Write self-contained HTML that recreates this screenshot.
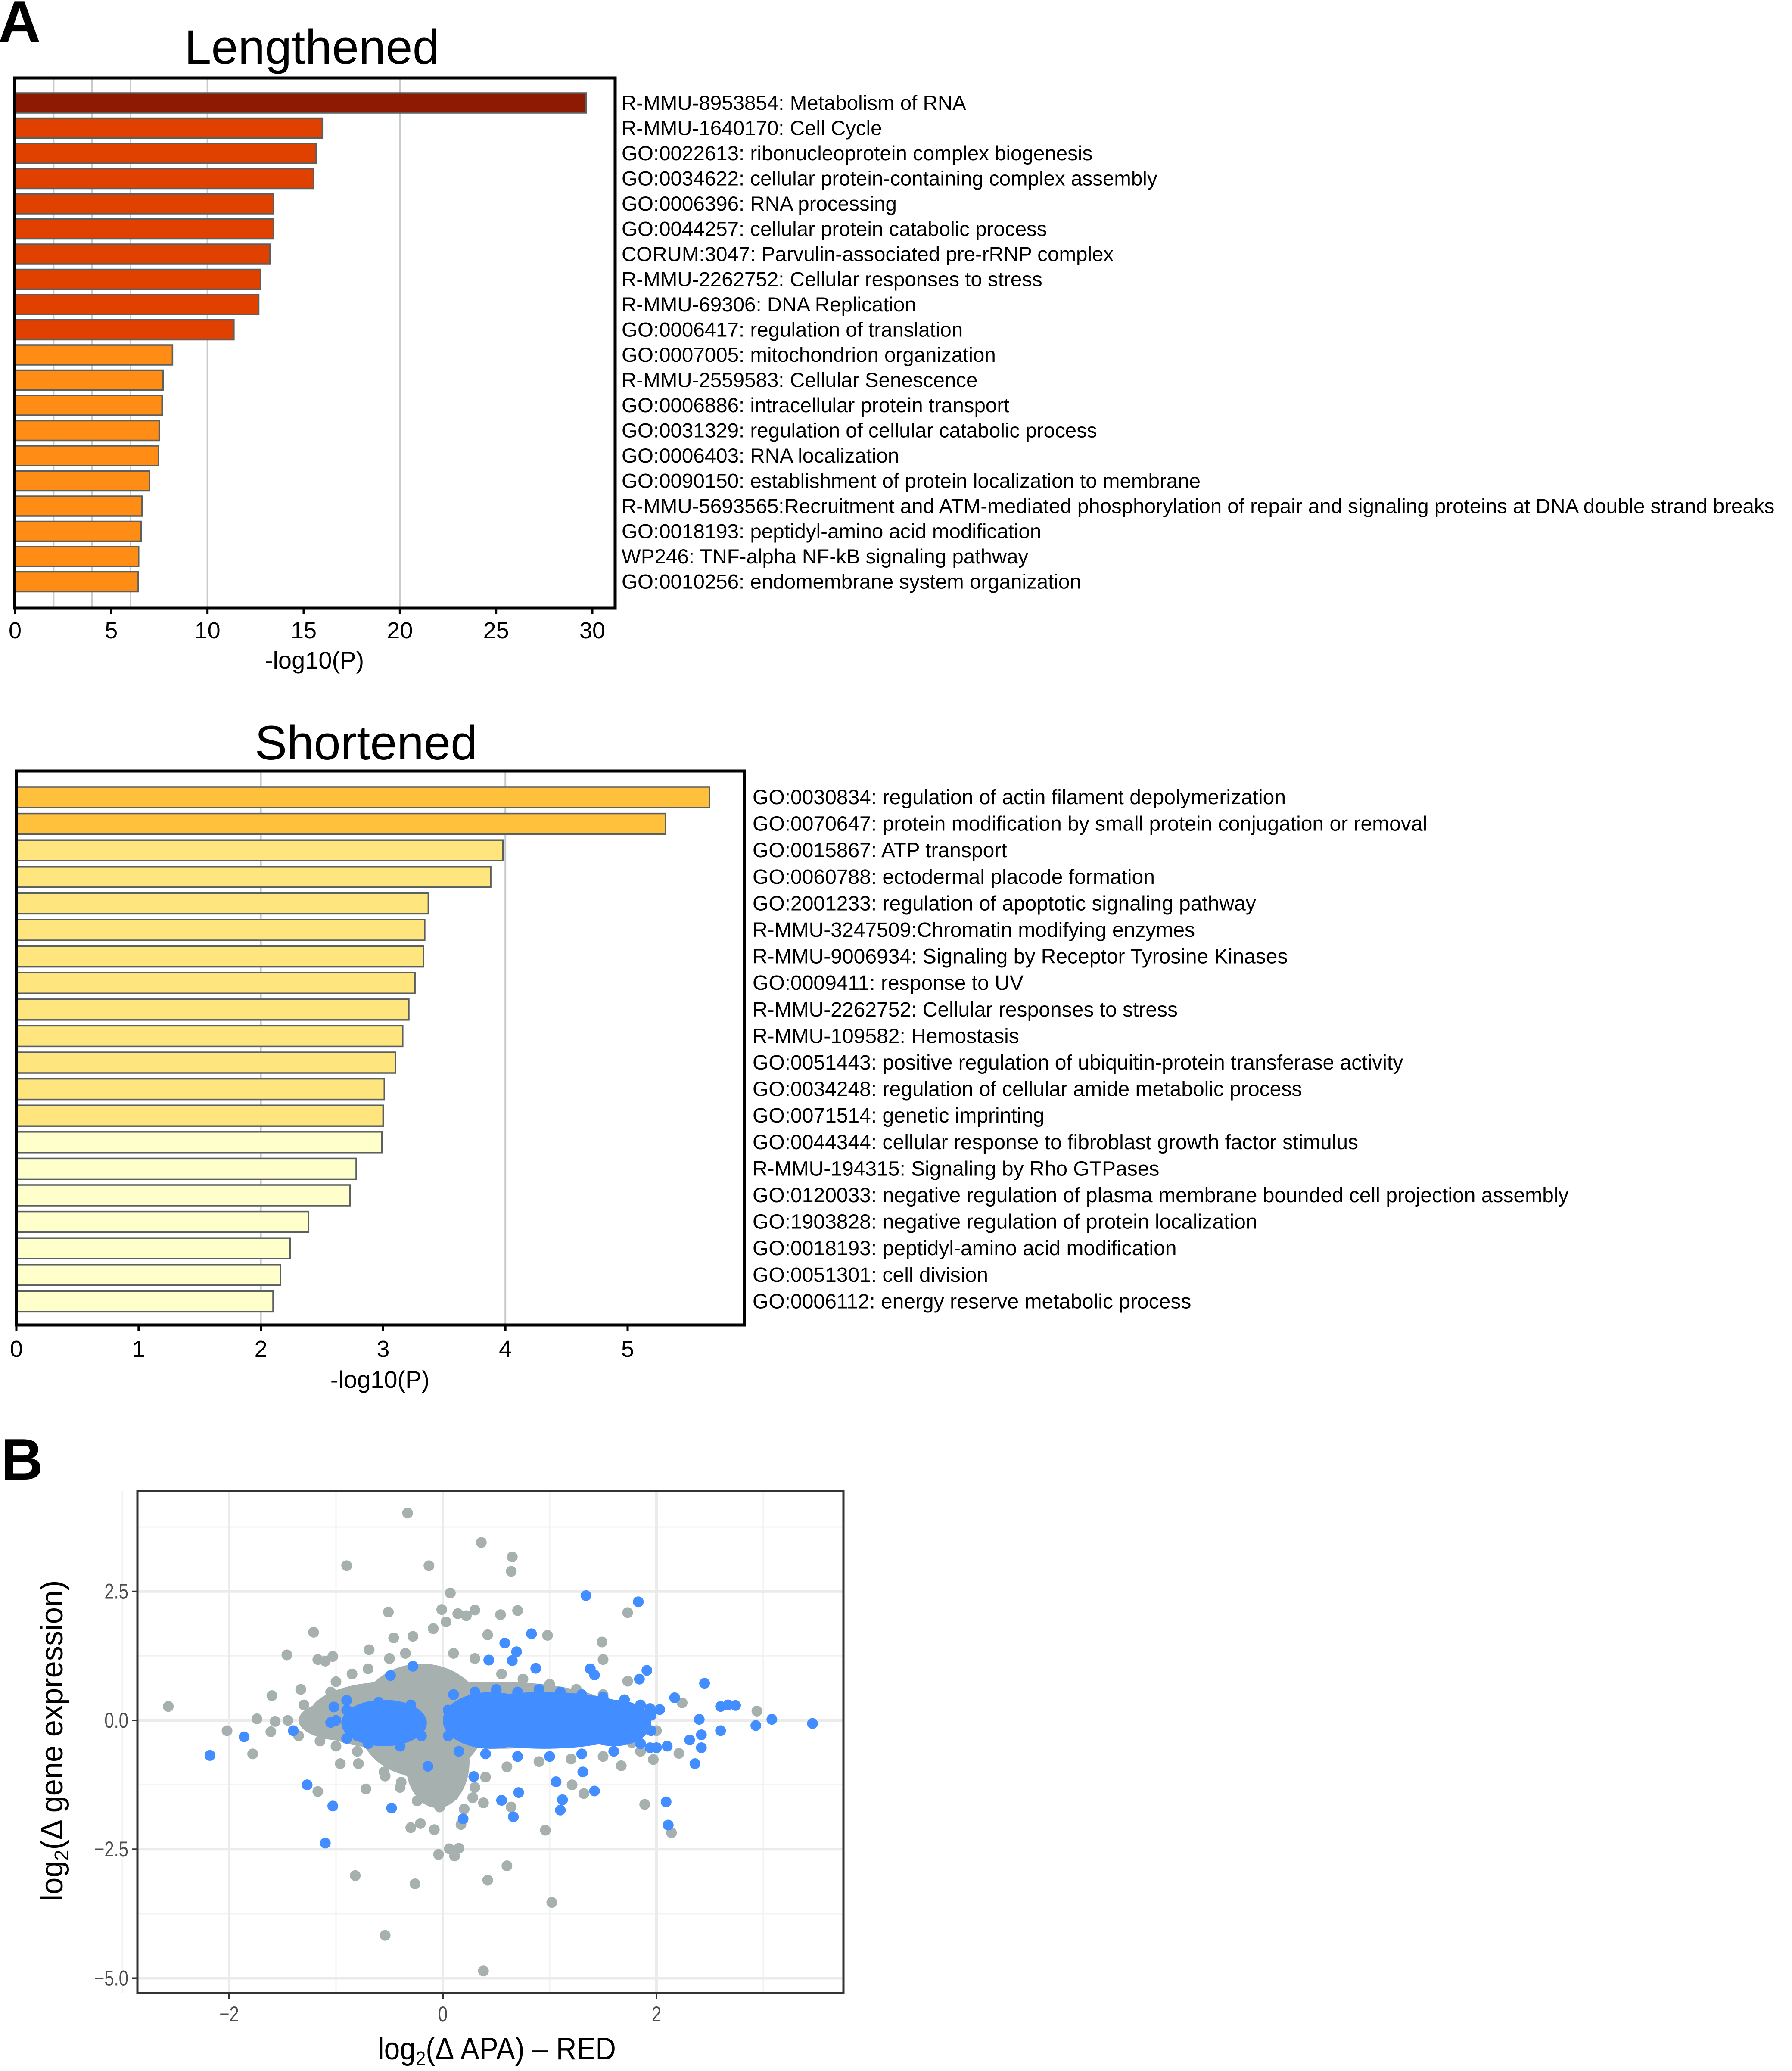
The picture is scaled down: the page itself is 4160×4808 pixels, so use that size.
<!DOCTYPE html>
<html><head><meta charset="utf-8">
<style>
html,body{margin:0;padding:0;background:#fff;}
svg{display:block;font-family:"Liberation Sans",sans-serif;}
</style></head>
<body>
<svg id="fig" width="4160" height="4808" viewBox="0 0 4160 4808" xmlns="http://www.w3.org/2000/svg">
<rect x="0" y="0" width="4160" height="4808" fill="#fff"/>
<text x="-4" y="97" font-size="136" font-weight="bold">A</text>
<text x="2" y="3435" font-size="136" font-weight="bold">B</text>
<g id="lenG"></g>
<g id="shoG"></g>
<g id="scG"></g>
</svg>
<script>
const lenLabels = ["R-MMU-8953854: Metabolism of RNA","R-MMU-1640170: Cell Cycle","GO:0022613: ribonucleoprotein complex biogenesis","GO:0034622: cellular protein-containing complex assembly","GO:0006396: RNA processing","GO:0044257: cellular protein catabolic process","CORUM:3047: Parvulin-associated pre-rRNP complex","R-MMU-2262752: Cellular responses to stress","R-MMU-69306: DNA Replication","GO:0006417: regulation of translation","GO:0007005: mitochondrion organization","R-MMU-2559583: Cellular Senescence","GO:0006886: intracellular protein transport","GO:0031329: regulation of cellular catabolic process","GO:0006403: RNA localization","GO:0090150: establishment of protein localization to membrane","R-MMU-5693565:Recruitment and ATM-mediated phosphorylation of repair and signaling proteins at DNA double strand breaks","GO:0018193: peptidyl-amino acid modification","WP246: TNF-alpha NF-kB signaling pathway","GO:0010256: endomembrane system organization"];
const lenValues = [29.68,15.97,15.65,15.52,13.43,13.43,13.25,12.76,12.66,11.37,8.18,7.69,7.64,7.49,7.45,6.98,6.60,6.55,6.42,6.40];
const lenTicks = [0,5,10,15,20,25,30];
const lenGrid = [2,4,6,10,20];

const shoLabels = ["GO:0030834: regulation of actin filament depolymerization","GO:0070647: protein modification by small protein conjugation or removal","GO:0015867: ATP transport","GO:0060788: ectodermal placode formation","GO:2001233: regulation of apoptotic signaling pathway","R-MMU-3247509:Chromatin modifying enzymes","R-MMU-9006934: Signaling by Receptor Tyrosine Kinases","GO:0009411: response to UV","R-MMU-2262752: Cellular responses to stress","R-MMU-109582: Hemostasis","GO:0051443: positive regulation of ubiquitin-protein transferase activity","GO:0034248: regulation of cellular amide metabolic process","GO:0071514: genetic imprinting","GO:0044344: cellular response to fibroblast growth factor stimulus","R-MMU-194315: Signaling by Rho GTPases","GO:0120033: negative regulation of plasma membrane bounded cell projection assembly","GO:1903828: negative regulation of protein localization","GO:0018193: peptidyl-amino acid modification","GO:0051301: cell division","GO:0006112: energy reserve metabolic process"];
const shoValues = [5.67,5.31,3.98,3.88,3.37,3.34,3.33,3.26,3.21,3.16,3.10,3.01,3.00,2.99,2.78,2.73,2.39,2.24,2.16,2.10];
const shoTicks = [0,1,2,3,4,5];
const shoGrid = [2,4];

const greyX = [-0.33,0.36,0.65,0.64,-0.90,-0.13,0.07,-0.51,-0.01,0.14,0.22,0.30,0.54,0.70,1.73,-1.21,0.03,-0.09,-0.46,-0.28,0.42,0.98,1.49,-1.46,-1.17,-1.10,-1.03,-0.69,1.50,-1.60,-2.57,-1.74,-1.57,-2.02,-1.61,-1.78,-1.33,2.24,2.94,1.73,-1.17,-0.72,-0.96,-0.79,-0.30,-0.21,-0.08,0.17,-0.04,0.06,0.15,0.11,0.60,-0.82,-0.26,0.42,1.02,-0.54,0.38,0.96,1.89,2.14,1.67,1.32,1.21,0.64,0.38,0.20,0.28,-0.13,-0.03,-0.24,-0.54,-0.39,1.97,2.21,1.77,-1.3,-1.25,-1.2,-1.15,-1.05,-1.0,-0.85,-0.7,-0.5,-0.35,0.1,0.3,0.55,0.75,1.0,1.25,1.5,1.7,1.9,2.0,1.85,1.5,1.2,0.9,0.6,0.4,0.3,-0.4,-0.55,-0.8,-1.0,-0.2,0.1,-1.35,-1.45];
const greyY = [4.02,3.45,3.17,2.89,3.0,3.0,2.47,2.10,2.15,2.07,2.03,2.14,2.05,2.13,2.09,1.71,1.91,1.78,1.60,1.63,1.66,1.65,1.52,1.27,1.18,1.15,1.24,1.37,1.18,0.48,0.27,0.03,-0.02,-0.20,-0.22,-0.65,0.60,0.34,0.18,0.76,-1.38,-1.33,-0.84,-0.84,-2.08,-2.0,-2.12,-2.02,-2.60,-2.49,-2.48,-2.63,-2.82,-3.01,-3.17,-3.10,-3.53,-4.17,-4.86,-2.13,-1.63,-2.18,-0.88,-1.42,-1.25,-1.68,-1.60,-1.72,-1.50,-1.36,-1.68,-1.56,-1.08,-1.20,-0.76,-0.64,-0.43,0.3,0.1,-0.1,-0.4,0.55,0.75,0.9,1.0,1.2,1.3,1.3,1.2,0.9,0.8,0.7,0.6,0.5,0.4,0.2,-0.2,-0.6,-0.7,-0.75,-0.8,-0.9,-1.1,-1.3,-1.3,-1.0,-0.6,-0.5,-1.5,-1.45,-0.3,0.0];
const blueX = [1.34,1.83,0.83,0.58,0.69,0.43,0.65,0.87,-0.28,-0.49,1.91,1.84,1.38,1.42,2.45,2.17,2.60,2.67,2.74,3.08,3.46,2.93,2.60,2.42,2.40,2.42,2.36,2.31,2.09,2.11,1.42,1.12,1.10,1.06,1.31,0.71,0.66,0.55,0.19,0.29,-0.14,-0.48,-1.03,-1.10,-1.27,-2.18,-1.86,-1.40,-1.05,-1.02,-0.90,-0.90,1.94,2.0,2.10,1.94,2.03,0.1,0.3,0.5,0.7,0.9,1.1,1.3,1.5,1.7,1.85,1.95,1.95,1.85,1.6,1.3,1.0,0.7,0.4,0.15,0.05,0.05,-0.9,-0.8,-0.6,-0.3,-0.2,-0.4,-0.7,-1.0];
const blueY = [2.42,2.30,1.68,1.50,1.33,1.17,1.16,1.01,1.05,0.87,0.97,0.80,1.0,0.88,0.72,0.44,0.27,0.30,0.29,0.02,-0.06,-0.10,-0.20,-0.28,0.02,-0.53,-0.84,-0.38,-1.58,-2.03,-1.37,-1.54,-1.74,-1.19,-1.0,-1.40,-1.87,-1.55,-1.91,-1.09,-0.89,-1.70,-1.66,-2.38,-1.25,-0.68,-0.32,-0.20,-0.04,0.26,0.39,-0.35,-0.53,-0.53,-0.50,0.23,0.21,0.5,0.55,0.6,0.55,0.6,0.55,0.5,0.45,0.4,0.3,0.1,-0.2,-0.45,-0.6,-0.65,-0.7,-0.7,-0.65,-0.6,-0.3,0.2,0.2,-0.3,0.35,0.3,-0.3,-0.5,-0.45,0.0];
// dense cores: centre x, centre y, half-width, half-height (data units)
const greyCoreX = [-0.2,-0.5,0.5,1.2,-0.05,-0.9];
const greyCoreY = [0.0,0.1,0.1,0.0,-0.8,0.0];
const greyCoreRX = [0.6,0.75,1.15,0.65,0.3,0.45];
const greyCoreRY = [1.1,0.65,0.65,0.5,0.9,0.4];
const blueCoreX = [0.95,0.45,1.6,-0.55];
const blueCoreY = [0.0,0.0,-0.05,-0.05];
const blueCoreRX = [0.95,0.45,0.35,0.4];
const blueCoreRY = [0.55,0.55,0.45,0.45];
const scXTicks = [-2,0,2];
const scXTickLabels = ["\u22122","0","2"];
const scYTicks = [2.5,0,-2.5,-5];
const scYTickLabels = ["2.5","0.0","\u22122.5","\u22125.0"];

const NS="http://www.w3.org/2000/svg";
function mk(tag, parent, attrs){const e=document.createElementNS(NS,tag);for(const k in attrs)e.setAttribute(k,attrs[k]);parent.appendChild(e);return e;}

function barChart(g, cfg, labels, values, ticks, grid, colorFn){
  const sx=v=>cfg.x0+(v-0)*cfg.unit;
  for(const gv of grid){
    const l=mk('line',g,{x1:sx(gv),x2:sx(gv),y1:cfg.top,y2:cfg.bottom,stroke:'#c5cccb','stroke-width':4});
    
    
  }
  values.forEach((v,i)=>{
    const y=cfg.barTop+i*cfg.pitch;
    const r=mk('rect',g,{x:cfg.x0,y:y,width:sx(v)-cfg.x0,height:cfg.barH,fill:colorFn(i),stroke:'#5a5f5f','stroke-width':3.5});
    
    
    const t=mk('text',g,{x:cfg.labelX,y:y+cfg.barH/2+16,'font-size':cfg.labelFont,fill:'#000'});
    t.textContent=labels[i];
    
    
  });
  const f=mk('rect',g,{x:cfg.left,y:cfg.top,width:cfg.right-cfg.left,height:cfg.bottom-cfg.top,fill:'none',stroke:'#000','stroke-width':7});
  
  
  for(const tv of ticks){
    const tk=mk('line',g,{x1:sx(tv),x2:sx(tv),y1:cfg.bottom,y2:cfg.bottom+14,stroke:'#000','stroke-width':5});
    
    
    const tl=mk('text',g,{x:sx(tv),y:cfg.tickY,'font-size':54,'text-anchor':'middle',fill:'#000'});
    tl.textContent=String(tv);
    
    
  }
  const xt=mk('text',g,{x:cfg.xTitleX,y:cfg.xTitleY,'font-size':56,'text-anchor':'middle',fill:'#000'});
  xt.textContent='-log10(P)';
  
  
  const ti=mk('text',g,{x:cfg.titleX,y:cfg.titleY,'font-size':112,'text-anchor':'middle',fill:'#000'});
  ti.textContent=cfg.title;
  
  
}

barChart(document.getElementById('lenG'),
 {x0:35,unit:(1375-35)/30,left:34,right:1428,top:181,bottom:1412,barTop:216,barH:46,pitch:58.5,labelX:1443,labelFont:47.5,tickY:1482,xTitleX:730,xTitleY:1552,titleX:724,titleY:148,title:'Lengthened'},
 lenLabels,lenValues,lenTicks,lenGrid,i=>i===0?'#8e1a03':(i<10?'#e04100':'#ff8c14'));
barChart(document.getElementById('shoG'),
 {x0:38,unit:(1457-38)/5,left:38,right:1728,top:1790,bottom:3076,barTop:1827,barH:48,pitch:61.6,labelX:1747,labelFont:48,tickY:3150,xTitleX:882,xTitleY:3222,titleX:850,titleY:1763,title:'Shortened'},
 shoLabels,shoValues,shoTicks,shoGrid,i=>i<2?'#ffc13b':(i<13?'#fee57d':'#ffffcc'));

// scatter
(function(){
  const g=document.getElementById('scG');
  const L=319,R=1958,T=3461,B=4627;
  const sx=v=>1028+v*248, sy=v=>3994-v*119.7;
  const minorX=[-3,-1,1,3], minorY=[3.75,1.25,-1.25,-3.75];
  for(const v of minorX){const l=mk('line',g,{x1:sx(v),x2:sx(v),y1:T,y2:B,stroke:'#f2f2f2','stroke-width':3});}
  for(const v of minorY){const l=mk('line',g,{x1:L,x2:R,y1:sy(v),y2:sy(v),stroke:'#f2f2f2','stroke-width':3});}
  for(const v of scXTicks){const l=mk('line',g,{x1:sx(v),x2:sx(v),y1:T,y2:B,stroke:'#ebebeb','stroke-width':6});}
  for(const v of scYTicks){const l=mk('line',g,{x1:L,x2:R,y1:sy(v),y2:sy(v),stroke:'#ebebeb','stroke-width':6});}
  const rr=12.5;
  greyX.forEach((x,i)=>{const c=mk('circle',g,{cx:sx(x),cy:sy(greyY[i]),r:rr,fill:'#a6b0ae'});});
  greyCoreX.forEach((x,i)=>{const e=mk('ellipse',g,{cx:sx(x),cy:sy(greyCoreY[i]),rx:greyCoreRX[i]*248,ry:greyCoreRY[i]*119.7,fill:'#a6b0ae'});});
  blueCoreX.forEach((x,i)=>{const e=mk('ellipse',g,{cx:sx(x),cy:sy(blueCoreY[i]),rx:blueCoreRX[i]*248,ry:blueCoreRY[i]*119.7,fill:'#428dff'});});
  blueX.forEach((x,i)=>{const c=mk('circle',g,{cx:sx(x),cy:sy(blueY[i]),r:rr,fill:'#428dff'});});
  const f=mk('rect',g,{x:L,y:T,width:R-L,height:B-T,fill:'none',stroke:'#333','stroke-width':5});
  
  
  scXTicks.forEach((v,i)=>{
    const tk=mk('line',g,{x1:sx(v),x2:sx(v),y1:B,y2:B+13,stroke:'#333','stroke-width':4});
    
    
    const t=mk('text',g,{x:sx(v),y:4693,'font-size':50,'text-anchor':'middle',fill:'#4d4d4d',transform:'translate('+sx(v)+',0) scale(0.8,1) translate('+(-sx(v))+',0)'});
    t.textContent=scXTickLabels[i];
    
    
  });
  scYTicks.forEach((v,i)=>{
    const tk=mk('line',g,{x1:L-13,x2:L,y1:sy(v),y2:sy(v),stroke:'#333','stroke-width':4});
    
    
    const t=mk('text',g,{x:298,y:sy(v)+17,'font-size':50,'text-anchor':'end',fill:'#4d4d4d',transform:'translate(298,0) scale(0.8,1) translate(-298,0)'});
    t.textContent=scYTickLabels[i];
    
    
  });
  const xt=mk('text',g,{x:877,y:4781,'font-size':72,fill:'#000',textLength:553,lengthAdjust:'spacingAndGlyphs'});
  xt.innerHTML='log<tspan font-size="46" dy="14">2</tspan><tspan dy="-14">(\u0394 APA) \u2013 RED</tspan>';
  
  
  const yt=mk('text',g,{x:0,y:0,'font-size':72,fill:'#000','text-anchor':'middle',transform:'translate(145,4041) rotate(-90)',textLength:745,lengthAdjust:'spacingAndGlyphs'});
  yt.innerHTML='log<tspan font-size="46" dy="14">2</tspan><tspan dy="-14">(\u0394 gene expression)</tspan>';
  
  
})();
</script>
</body></html>
